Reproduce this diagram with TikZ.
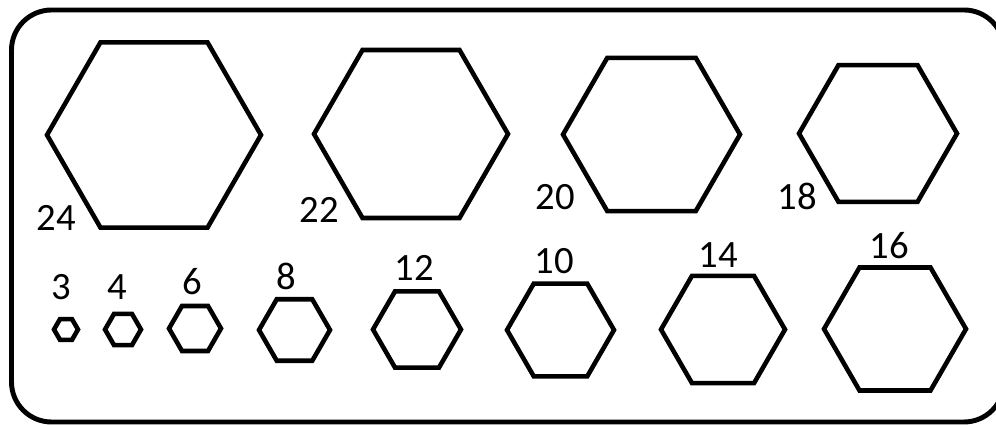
\documentclass[tikz,border=0pt]{standalone}
\usepackage{fontspec}
\setmainfont{Carlito}
\usepackage{tikz}
\usetikzlibrary{shapes.geometric}

\begin{document}
\begin{tikzpicture}[
        hexnut/.style={regular polygon, regular polygon sides=6, draw, line width=2.6pt, inner sep=0pt, outer sep=0pt},
        size/.style={inner sep=0pt, font=\fontsize{22}{24}\selectfont}
    ]
        \useasboundingbox (0,0) rectangle (19.92,8.5);

        % Outer plate (right side runs past the edge)
        \draw[line width=2.8pt, rounded corners=0.8cm] (0.23,0.06) rectangle (20.08,8.30);

        % Upper row: large holes
        \node[hexnut, minimum size=4.28cm] (h24) at (3.08,5.80) {};
        \node[hexnut, minimum size=3.88cm] (h22) at (8.22,5.82) {};
        \node[hexnut, minimum size=3.54cm] (h20) at (13.03,5.81) {};
        \node[hexnut, minimum size=3.16cm] (h18) at (17.56,5.83) {};

        % Lower row: small holes
        \node[hexnut, minimum size=0.48cm] (h3) at (1.32,1.91) {};
        \node[hexnut, minimum size=0.72cm] (h4) at (2.46,1.91) {};
        \node[hexnut, minimum size=1.04cm] (h6) at (3.90,1.93) {};
        \node[hexnut, minimum size=1.42cm] (h8) at (5.89,1.90) {};
        \node[hexnut, minimum size=1.76cm] (h12) at (8.34,1.91) {};
        \node[hexnut, minimum size=2.14cm] (h10) at (11.21,1.90) {};
        \node[hexnut, minimum size=2.48cm] (h14) at (14.46,1.91) {};
        \node[hexnut, minimum size=2.84cm] (h16) at (17.90,1.92) {};

        % Sizes
        \node[size] (l24) at (1.12,4.14) {24};
        \node[size] (l22) at (6.38,4.30) {22};
        \node[size] (l20) at (11.10,4.56) {20};
        \node[size] (l18) at (15.94,4.58) {18};
        \node[size] (l3) at (1.22,2.76) {3};
        \node[size] (l4) at (2.34,2.76) {4};
        \node[size] (l6) at (3.84,2.86) {6};
        \node[size] (l8) at (5.72,2.98) {8};
        \node[size] (l12) at (8.28,3.14) {12};
        \node[size] (l10) at (11.08,3.28) {10};
        \node[size] (l14) at (14.36,3.40) {14};
        \node[size] (l16) at (17.78,3.58) {16};
    \end{tikzpicture}
\end{document}
